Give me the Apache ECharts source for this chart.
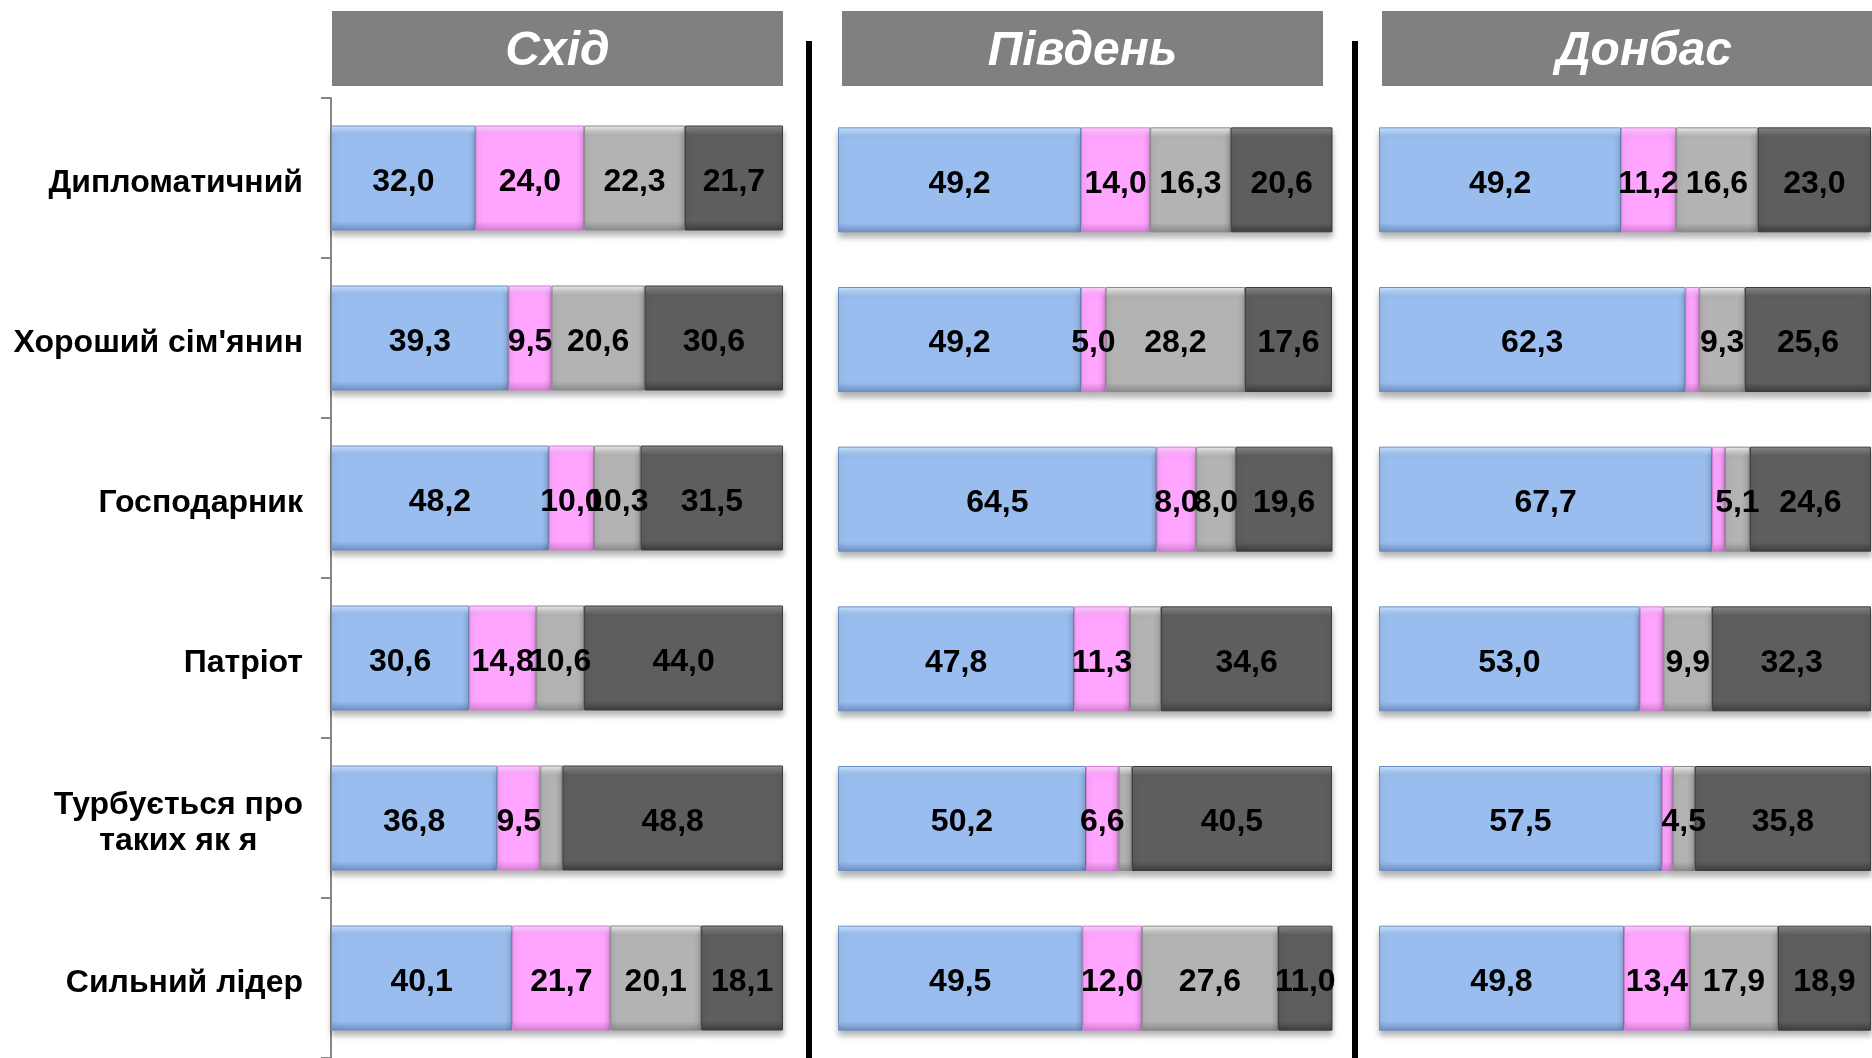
<!DOCTYPE html>
<html>
<head>
<meta charset="utf-8">
<style>
  html, body { margin: 0; padding: 0; background: #fff; }
  #chart { width: 1872px; height: 1058px; }
</style>
<script src="https://cdn.jsdelivr.net/npm/echarts@6/dist/echarts.min.js"></script>
</head>
<body>
<div id="chart"></div>
<script>
  // категорії (зверху вниз)
  const categories = ['Дипломатичний', "Хороший сім'янин", 'Господарник', 'Патріот', 'Турбується про\nтаких як я', 'Сильний лідер']
  const regions = ['Схід', 'Південь', 'Донбас']

  // Схід
  const eastA = [32.0, 39.3, 48.2, 30.6, 36.8, 40.1]
  const eastB = [24.0, 9.5, 10.0, 14.8, 9.5, 21.7]
  const eastC = [22.3, 20.6, 10.3, 10.6, 4.9, 20.1]
  const eastD = [21.7, 30.6, 31.5, 44.0, 48.8, 18.1]
  // Південь
  const southA = [49.2, 49.2, 64.5, 47.8, 50.2, 49.5]
  const southB = [14.0, 5.0, 8.0, 11.3, 6.6, 12.0]
  const southC = [16.3, 28.2, 8.0, 6.3, 2.7, 27.6]
  const southD = [20.6, 17.6, 19.6, 34.6, 40.5, 11.0]
  // Донбас
  const donbasA = [49.2, 62.3, 67.7, 53.0, 57.5, 49.8]
  const donbasB = [11.2, 2.8, 2.6, 4.8, 2.2, 13.4]
  const donbasC = [16.6, 9.3, 5.1, 9.9, 4.5, 17.9]
  const donbasD = [23.0, 25.6, 24.6, 32.3, 35.8, 18.9]

  // підписи, яких на оригіналі немає: панель-серія-категорія
  const hiddenLabels = ['0-2-4', '1-2-3', '1-2-4', '2-1-1', '2-1-2', '2-1-3', '2-1-4']

  const panelData = [
    [eastA, eastB, eastC, eastD],
    [southA, southB, southC, southD],
    [donbasA, donbasB, donbasC, donbasD]
  ]

  const colors = [
    { top: '#c8e4ff', base: '#9abdef', bottom: '#6d8fc0' },
    { top: '#ffd0ff', base: '#ffa4ff', bottom: '#d27fd2' },
    { top: '#eeeeee', base: '#b3b3b3', bottom: '#8a8a8a' },
    { top: '#8a8a8a', base: '#5e5e5e', bottom: '#3c3c3c' }
  ]

  const panels = [
    { left: 331, width: 452, top: 98 },
    { left: 838, width: 494, top: 100 },
    { left: 1379, width: 492, top: 100 }
  ]
  // третя плашка виходить за правий край
  const titleBoxes = [
    { x: 332, w: 451 },
    { x: 842, w: 481 },
    { x: 1382, w: 524 }
  ]

  const font = '"Liberation Sans", Arial, sans-serif'
  const fmt = v => v.toFixed(1).replace('.', ',')

  const grid = panels.map(p => ({ left: p.left, width: p.width, top: p.top, height: 962 }))

  const xAxis = panels.map((p, i) => ({
    type: 'value', gridIndex: i, min: 0, max: 100, show: false
  }))

  const yAxis = panels.map((p, i) => ({
    type: 'category', gridIndex: i, inverse: true, data: categories,
    show: i === 0,
    axisLine: { show: true, lineStyle: { color: '#868686', width: 2 } },
    axisTick: { show: true, length: 10, lineStyle: { color: '#868686', width: 2 } },
    axisLabel: {
      margin: 28,
      padding: [11, 0, 0, 0],
      fontFamily: font, fontWeight: 'bold', fontSize: 32, color: '#000',
      lineHeight: 36,
      formatter: v => v.split('\n').map(s => '{c|' + s + '}').join('\n'),
      rich: { c: { align: 'center', fontFamily: font, fontWeight: 'bold', fontSize: 32, color: '#000', lineHeight: 36 } }
    }
  }))

  const series = []
  panelData.forEach((arrs, pi) => {
    arrs.forEach((vals, si) => {
      const c = colors[si]
      series.push({
        type: 'bar', stack: 'p' + pi, xAxisIndex: pi, yAxisIndex: pi,
        barWidth: 105,
        data: vals.map((v, ci) => {
          const d = { value: v }
          if (hiddenLabels.includes(pi + '-' + si + '-' + ci)) d.label = { show: false }
          return d
        }),
        itemStyle: {
          color: new echarts.graphic.LinearGradient(0, 0, 0, 1, [
            { offset: 0, color: c.top },
            { offset: 0.09, color: c.base },
            { offset: 0.91, color: c.base },
            { offset: 1, color: c.bottom }
          ]),
          borderColor: c.bottom, borderWidth: 1,
          shadowColor: 'rgba(0,0,0,0.3)', shadowBlur: 6, shadowOffsetY: 5
        },
        label: {
          show: true, position: 'inside', offset: [0, 4],
          fontFamily: font, fontWeight: 'bold', fontSize: 32, color: '#000',
          formatter: p => fmt(p.value)
        },
        silent: true
      })
    })
  })

  const graphic = []
  titleBoxes.forEach((b, i) => {
    graphic.push({
      type: 'rect', shape: { x: b.x, y: 11, width: b.w, height: 75 },
      style: { fill: '#808080' }
    })
    graphic.push({
      type: 'text', x: b.x + b.w / 2, y: 52,
      style: {
        text: regions[i], fill: '#fff', align: 'center', verticalAlign: 'middle',
        font: 'italic bold 48px ' + font
      }
    })
  })
  // вертикальні розділювачі
  ;[806, 1352].forEach(x => {
    graphic.push({ type: 'rect', shape: { x, y: 41, width: 6, height: 1017 }, style: { fill: '#000' } })
  })

  const chart = echarts.init(document.getElementById('chart'))
  chart.setOption({
    animation: false,
    grid, xAxis, yAxis, series, graphic
  })
</script>
</body>
</html>
